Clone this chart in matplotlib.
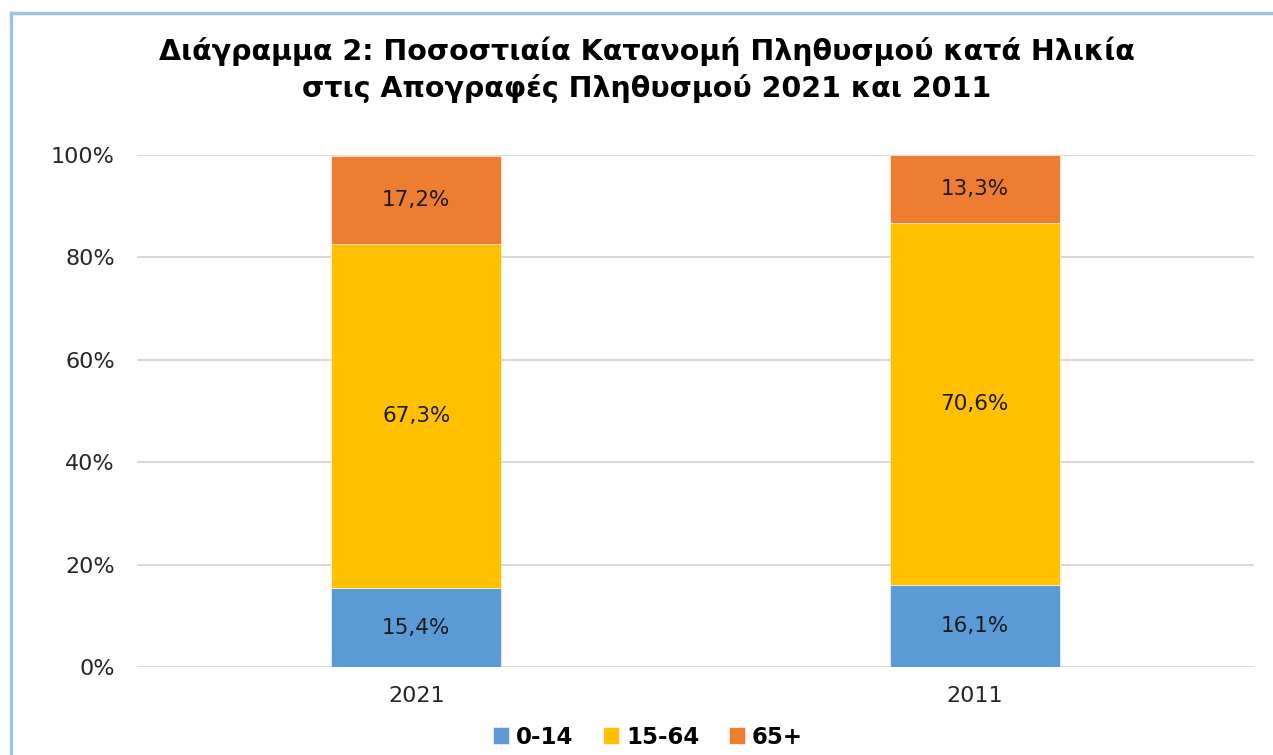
import numpy as np
import matplotlib.pyplot as plt
from matplotlib.lines import Line2D

years = ["2021", "2011"]
groups = ["0-14", "15-64", "65+"]
age_0_14 = [15.4, 16.1]
age_15_64 = [67.3, 70.6]
age_65 = [17.2, 13.3]
colors = ["#5B9BD5", "#FFC000", "#ED7D31"]

fig = plt.figure(figsize=(12.73, 7.55), dpi=100)
ax = fig.add_axes([137 / 1273, 1 - 667 / 755, 1117 / 1273, 512 / 755])

x = np.arange(len(years))
series = [age_0_14, age_15_64, age_65]
bottom = np.zeros(len(years))
for vals, c, name in zip(series, colors, groups):
    vals = np.array(vals)
    ax.bar(x, vals, 0.304, bottom=bottom, color=c, label=name,
           edgecolor="white", linewidth=0.4, zorder=3)
    for xi, b, v in zip(x, bottom, vals):
        ax.text(xi, b + v / 2, f"{v:.1f}%".replace(".", ","), ha="center",
                va="center", fontsize=15.5, color="#1a1a1a", zorder=4)
    bottom += vals

ax.set_xlim(-0.5, 1.5)
ax.set_ylim(0, 100)
ax.set_yticks(np.arange(0, 101, 20))
ax.set_yticklabels([f"{v}%" for v in range(0, 101, 20)])
ax.set_xticks(x)
ax.set_xticklabels(years)
ax.tick_params(axis="both", length=0, labelsize=16, colors="#262626")
ax.tick_params(axis="y", pad=16)
ax.tick_params(axis="x", pad=14)
ax.grid(axis="y", color="#D9D9D9", linewidth=1.5, zorder=0)
for s in ax.spines.values():
    s.set_visible(False)

fig.text(0.508, 0.907, "Διάγραμμα 2: Ποσοστιαία Κατανομή Πληθυσμού κατά Ηλικία\nστις Απογραφές Πληθυσμού 2021 και 2011",
         ha="center", va="center", fontsize=20.5, fontweight="bold", linespacing=1.35)

fig.legend(loc="center", bbox_to_anchor=(0.509, 1 - 737 / 755), ncol=3, frameon=False,
           prop={"size": 16.5, "weight": "bold"}, handlelength=0.7, handleheight=0.7,
           handletextpad=0.3, columnspacing=1.3)

border = "#A4C2E8"
fig.add_artist(Line2D([11 / 1273, 1.0], [1 - 13 / 755] * 2, color=border, linewidth=2.5))
fig.add_artist(Line2D([11 / 1273] * 2, [0, 1 - 13 / 755], color=border, linewidth=2.5))

fig.savefig("out.png", dpi=100)
